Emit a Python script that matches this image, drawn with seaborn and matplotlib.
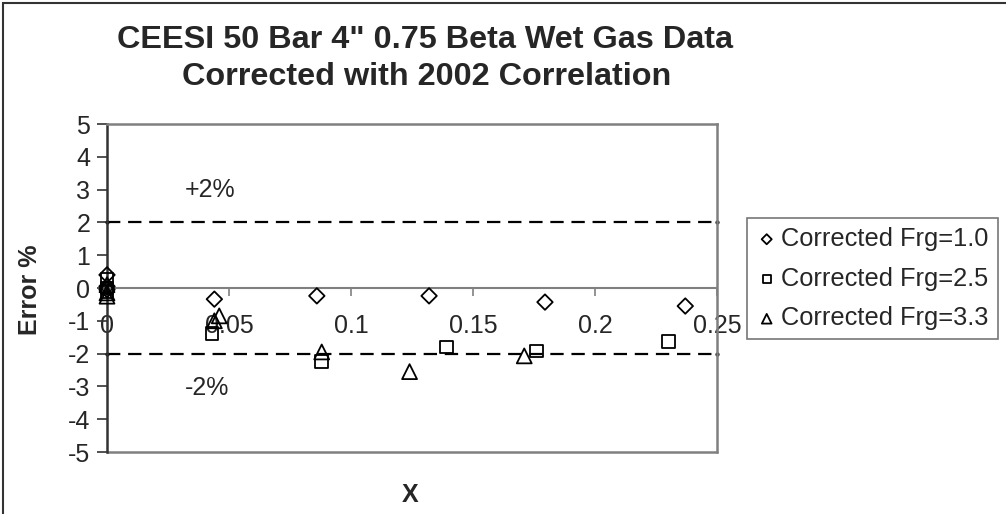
import numpy as np
import pandas as pd
import matplotlib
matplotlib.use("Agg")
import matplotlib.pyplot as plt
import seaborn as sns
from matplotlib.patches import Rectangle

# ================================
# DATA
# ================================

x_frg10 = [0.0, 0.0, 0.0, 0.044, 0.086, 0.132, 0.1795, 0.237]
err_frg10 = [0.4, 0.05, -0.05, -0.34, -0.24, -0.24, -0.43, -0.55]

x_frg25 = [0.0, 0.0, 0.0, 0.043, 0.088, 0.139, 0.176, 0.230]
err_frg25 = [0.25, 0.0, -0.1, -1.38, -2.23, -1.8, -1.92, -1.62]

x_frg33 = [0.0, 0.0, 0.0, 0.046, 0.044, 0.088, 0.124, 0.171]
err_frg33 = [0.1, -0.15, -0.25, -0.85, -1.0, -1.95, -2.55, -2.07]

limit_x = [0.0, 0.25]
upper_limit = [2, 2]
lower_limit = [-2, -2]

series_labels = ["Corrected Frg=1.0", "Corrected Frg=2.5", "Corrected Frg=3.3"]

# ================================
# FIGURE
# ================================

sns.set_style("white")
plt.rcParams["font.family"] = ["Liberation Sans", "DejaVu Sans"]
plt.rcParams["axes.unicode_minus"] = False

fig = plt.figure(figsize=(10.06, 5.14), dpi=100)
ax = fig.add_axes([107 / 1006, 1 - 452 / 514, 610 / 1006, 328 / 514])

# outer chart border (clipped on right/bottom like the reference)
fig.patches.append(Rectangle((3 / 1006, -0.2), 1.3, 1.2 - 3 / 514,
                             transform=fig.transFigure, fill=False,
                             edgecolor="#333333", linewidth=1.5))

# +/- 2% limit lines
for y_lim in [upper_limit, lower_limit]:
    sns.lineplot(x=limit_x, y=y_lim, ax=ax, color="black", linewidth=1.6,
                 linestyle=(0, (6, 3.5)), marker="o", markersize=3,
                 markeredgewidth=0, clip_on=False)

# scatter series
markers = ["D", "s", "^"]
sizes = [62, 85, 115]
for xs, ys, m, s, lab in zip([x_frg10, x_frg25, x_frg33],
                             [err_frg10, err_frg25, err_frg33],
                             markers, sizes, series_labels):
    sns.scatterplot(x=xs, y=ys, ax=ax, marker=m, s=s, facecolors="none",
                    edgecolor="black", linewidth=1.3, label=lab, zorder=3,
                    clip_on=False)

ax.set_xlim(0, 0.25)
ax.set_ylim(-5, 5)
ax.set_yticks(range(-5, 6))
ax.set_xticks([0, 0.05, 0.1, 0.15, 0.2, 0.25])
ax.set_xticklabels(["0", "0.05", "0.1", "0.15", "0.2", "0.25"])

# axes styling: x axis crossing at zero
for side in ["top", "right"]:
    ax.spines[side].set_color("#808080")
    ax.spines[side].set_linewidth(1.8)
ax.spines["left"].set_color("#333333")
ax.spines["left"].set_linewidth(1.8)
ax.spines["bottom"].set_position(("data", 0))
ax.spines["bottom"].set_color("#808080")
ax.spines["bottom"].set_linewidth(1.5)
ax.spines["bottom"].set_zorder(1)
# plot-area bottom frame
ax.axhline(-5, color="#808080", linewidth=1.8, clip_on=False)

ax.tick_params(axis="y", direction="out", length=7, width=1.2,
               color="#333333", labelsize=18, pad=5, left=True)
ax.tick_params(axis="x", direction="out", length=6, width=1.2,
               color="#808080", labelsize=18, pad=13, bottom=True)

ax.set_xlabel("")
ax.set_ylabel("")

ax.text(0.032, 3.0, "+2%", fontsize=18, ha="left", va="center")
ax.text(0.032, -3.05, "-2%", fontsize=18, ha="left", va="center")

# titles and axis labels
fig.text(425 / 1006, 1 - 40 / 514, "CEESI 50 Bar 4\" 0.75 Beta Wet Gas Data",
         fontsize=23.3, fontweight="bold", ha="center", va="center")
fig.text(427 / 1006, 1 - 77 / 514, "Corrected with 2002 Correlation",
         fontsize=23.3, fontweight="bold", ha="center", va="center")
fig.text(30 / 1006, 1 - 290 / 514, "Error %", fontsize=18, fontweight="bold",
         rotation=90, ha="center", va="center")
fig.text(410 / 1006, 1 - 495 / 514, "X", fontsize=18, fontweight="bold",
         ha="center", va="center")

# legend
ax.get_legend().remove()
handles, labels = ax.get_legend_handles_labels()
handles = [h for h, l in zip(handles, labels) if l in series_labels]
leg = fig.legend(handles, series_labels, loc="upper left",
                 bbox_to_anchor=(747 / 1006, 1 - 218 / 514),
                 fontsize=18.3, frameon=True, fancybox=False, markerscale=0.65,
                 handletextpad=0.15, handlelength=0.85, borderpad=0.35,
                 labelspacing=0.62, borderaxespad=0)
leg.get_frame().set_edgecolor("#555555")
leg.get_frame().set_linewidth(1.2)

fig.savefig("out.png", dpi=100)
